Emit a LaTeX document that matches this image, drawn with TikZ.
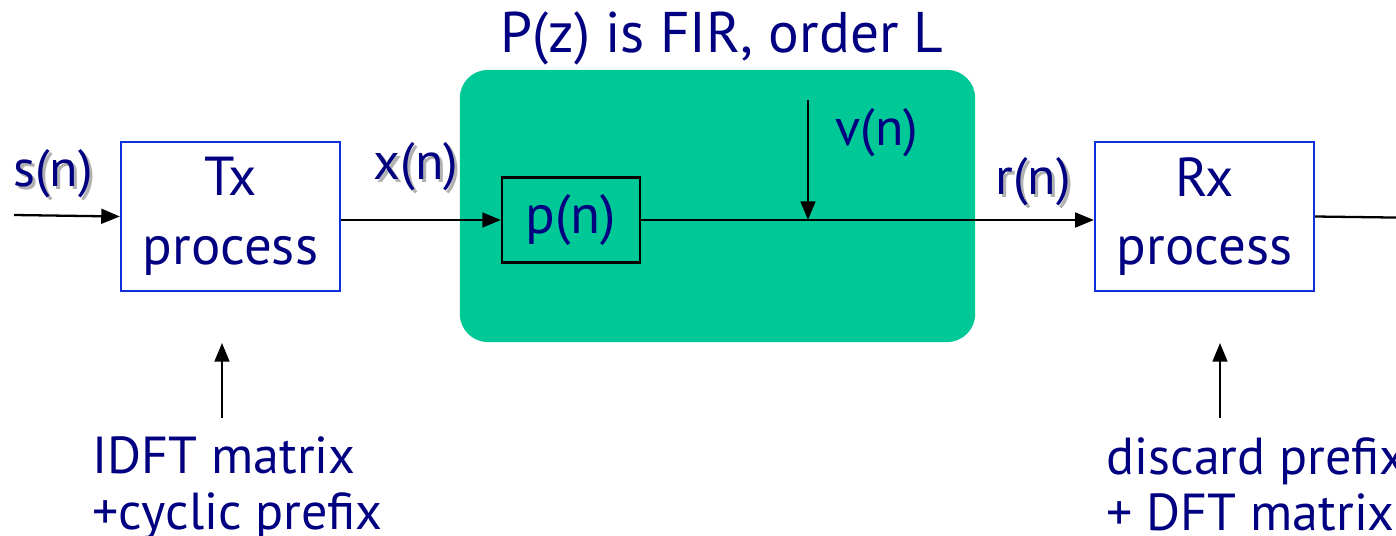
\documentclass[tikz,border=0pt]{standalone}
\usepackage{fontspec}
\setmainfont{PT Sans}
\usetikzlibrary{arrows.meta, positioning}
\definecolor{navy}{RGB}{0,0,128}
\definecolor{boxblue}{RGB}{16,48,220}
\definecolor{chgreen}{RGB}{0,200,150}
\newcommand{\shadelabel}[1]{\makebox[0pt][l]{\kern0.9pt\raisebox{-0.9pt}{\textcolor{black!30}{#1}}}#1}
\tikzstyle{block} = [rectangle, minimum width=2.19cm, minimum height=1.49cm, align=center, draw=boxblue, line width=0.6pt, text=navy, font=\fontsize{15.6}{19.5}\selectfont]
\tikzstyle{filt} = [rectangle, minimum width=1.38cm, minimum height=0.85cm, draw=black, line width=0.6pt, text=navy, font=\fontsize{15.6}{16.2}\selectfont]
\tikzstyle{channel} = [rectangle, rounded corners=0.28cm, minimum width=5.15cm, minimum height=2.72cm, fill=chgreen]
\tikzstyle{sig} = [text=navy, inner sep=0pt, font=\fontsize{14.8}{15}\selectfont]
\tikzstyle{note} = [text=navy, align=left, anchor=north west, inner sep=0pt, font=\fontsize{14.8}{16}\selectfont]
\tikzstyle{arrow} = [line width=0.65pt, -{Triangle[length=5.3pt,width=4.2pt]}]

\begin{document}
\begin{tikzpicture}[x=0.01cm, y=-0.01cm]
    \useasboundingbox (0,0) rectangle (1396,536);

    \node (chan) [channel] at (717.5,206) {};
    \node (title) [sig, font=\fontsize{16.3}{17}\selectfont] at (722,38) {P(z) is FIR, order L};

    \node (tx) [block] at (230.5,216.5) {Tx\\process};
    \node (rx) [block] at (1204.5,216.5) {Rx\\process};
    \node (pn) [filt] at (571,220) {p(n)};

    \node (sn) [sig] at (53,175) {\shadelabel{s(n)}};
    \node (xn) [sig] at (416,168) {\shadelabel{x(n)}};
    \node (rn) [sig] at (1033,183) {\shadelabel{r(n)}};
    \node (vn) [sig] at (877,133) {v(n)};

    \node (txnote) [note] at (92,436) {IDFT matrix\\+cyclic prefix};
    \node (rxnote) [note] at (1106,437) {discard prefix\\+ DFT matrix};

    % free ends of the connectors
    \coordinate (sin) at (14,215);
    \coordinate (sout) at (1430,218);
    \coordinate (vtop) at (808,100);
    \coordinate (txlo) at (222,418);
    \coordinate (txhi) at (222,343);
    \coordinate (rxlo) at (1220,418);
    \coordinate (rxhi) at (1220,343);

    \draw [arrow] (sin) -- (tx.west);
    \draw [arrow] (tx.east |- pn.west) -- (pn.west);
    \draw [arrow] (pn.east) -- (rx.west |- pn.east);
    \draw [arrow] (vtop) -- (vtop |- pn.east);
    \draw [arrow] (rx.east) -- (sout);
    \draw [arrow] (txlo) -- (txhi);
    \draw [arrow] (rxlo) -- (rxhi);
\end{tikzpicture}
\end{document}
